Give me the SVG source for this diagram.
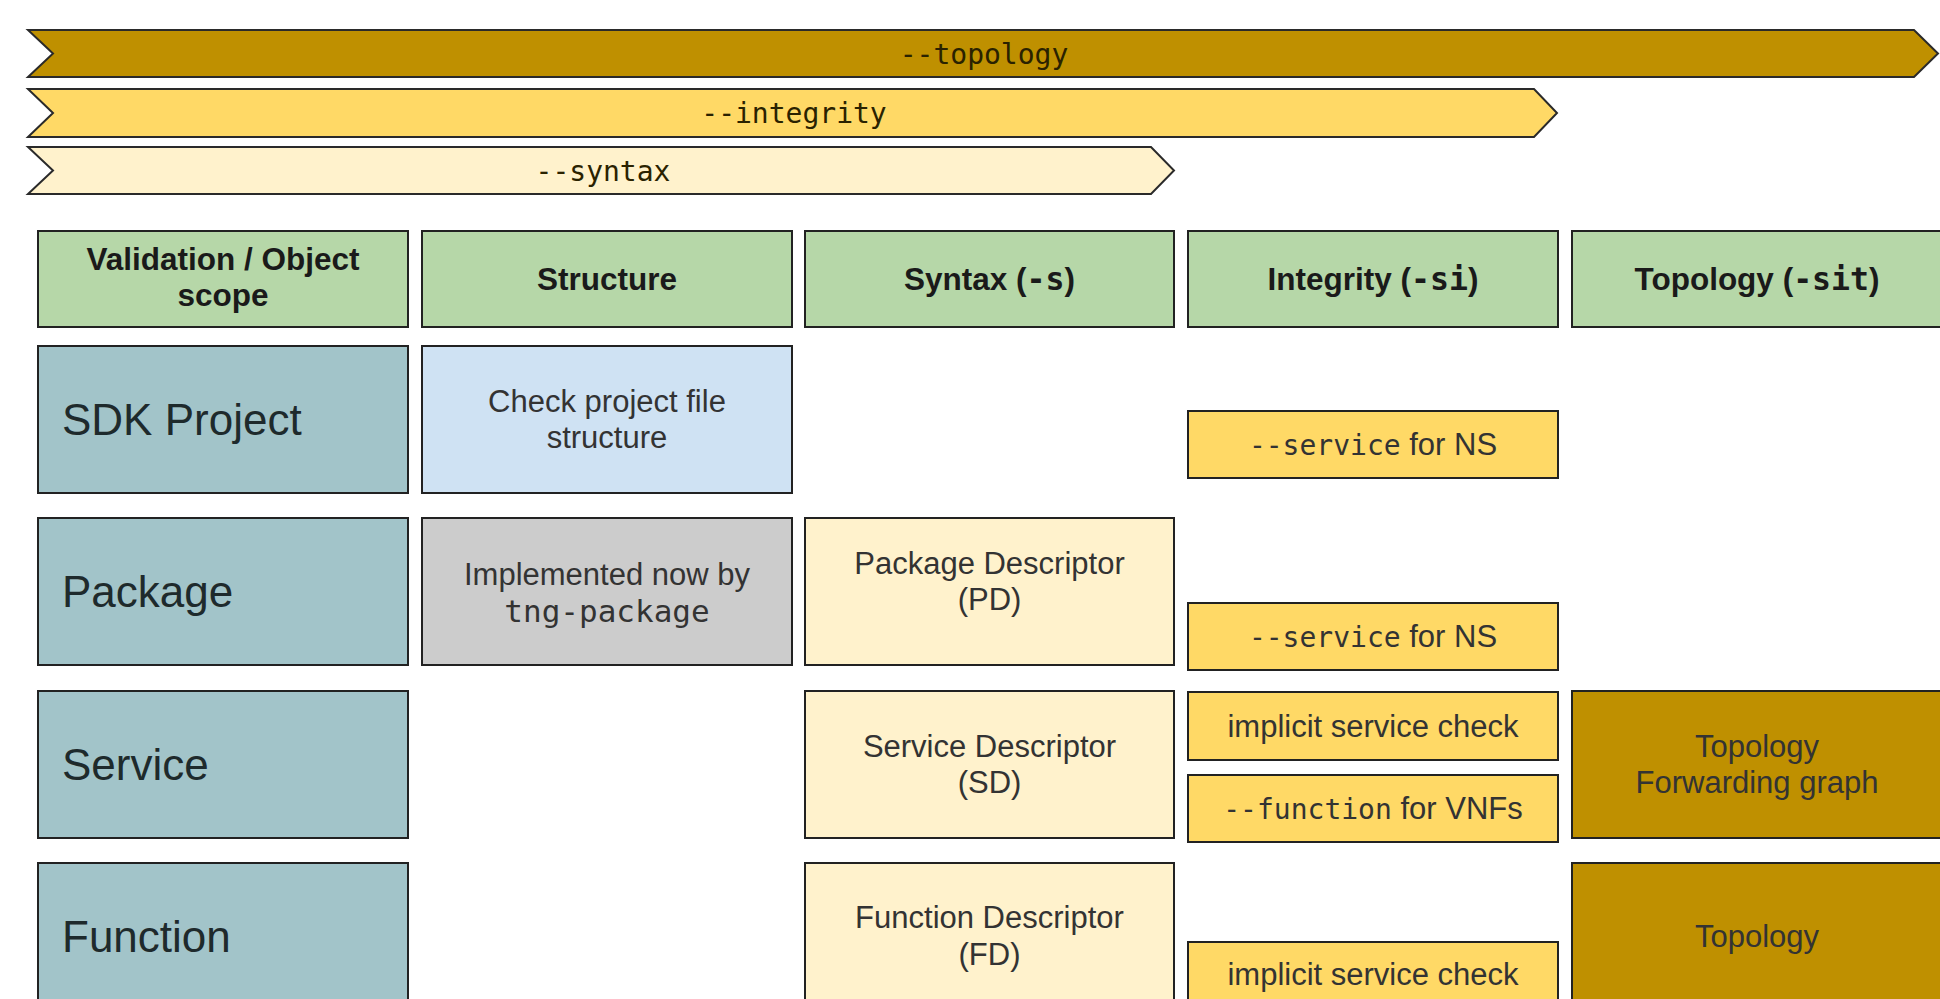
<svg xmlns="http://www.w3.org/2000/svg" width="1940" height="999" viewBox="0 0 1940 999">
<style>
.box{stroke:#222;stroke-width:2}
.ban{stroke:#2a2a2a;stroke-width:2;stroke-linejoin:miter}
.hdr{fill:#b6d7a8}
.obj{fill:#a2c4c9}
.blue{fill:#cfe2f3}
.gray{fill:#cccccc}
.lt{fill:#fff2cc}
.mid{fill:#ffd966}
.dk{fill:#bf9000}
text{font-family:"Liberation Sans",Arial,sans-serif;fill:#333}
.h{font-weight:bold;font-size:31.5px;fill:#1a1a1a;text-anchor:middle}
.b{font-size:31px;text-anchor:middle}
.big{font-size:44px;fill:#1e2a2c}
.m{font-family:"DejaVu Sans Mono","Liberation Mono",monospace}
.bt{font-family:"DejaVu Sans Mono","Liberation Mono",monospace;font-size:28px;fill:#2a2200;text-anchor:middle}
</style>
<rect width="1940" height="999" fill="#ffffff"/>

<g id="banners">
  <g id="banner-topology">
    <polygon class="ban dk" points="28,30 1914,30 1938,53.5 1914,77 28,77 53,53.5"/>
    <text class="bt" x="984" y="64">--topology</text>
  </g>
  <g id="banner-integrity">
    <polygon class="ban mid" points="28,89 1534,89 1557,113 1534,137 28,137 53,113"/>
    <text class="bt" x="794" y="123">--integrity</text>
  </g>
  <g id="banner-syntax">
    <polygon class="ban lt" points="28,147 1151,147 1174,170.5 1151,194 28,194 53,170.5"/>
    <text class="bt" x="603" y="181">--syntax</text>
  </g>
</g>

<g id="header">
  <g id="h-scope">
    <rect class="box hdr" x="38" y="231" width="370" height="96"/>
    <text class="h" x="223" y="270">Validation / Object</text>
    <text class="h" x="223" y="306">scope</text>
  </g>
  <g id="h-structure">
    <rect class="box hdr" x="422" y="231" width="370" height="96"/>
    <text class="h" x="607" y="290">Structure</text>
  </g>
  <g id="h-syntax">
    <rect class="box hdr" x="805" y="231" width="369" height="96"/>
    <text class="h" x="989.5" y="290">Syntax (<tspan class="m">-s</tspan>)</text>
  </g>
  <g id="h-integrity">
    <rect class="box hdr" x="1188" y="231" width="370" height="96"/>
    <text class="h" x="1373" y="290">Integrity (<tspan class="m">-si</tspan>)</text>
  </g>
  <g id="h-topology">
    <rect class="box hdr" x="1572" y="231" width="372" height="96"/>
    <text class="h" x="1757" y="290">Topology (<tspan class="m">-sit</tspan>)</text>
  </g>
</g>

<g id="row-sdk">
  <g id="sdk-project">
    <rect class="box obj" x="38" y="346" width="370" height="147"/>
    <text class="big" x="62" y="435">SDK Project</text>
  </g>
  <g id="sdk-structure">
    <rect class="box blue" x="422" y="346" width="370" height="147"/>
    <text class="b" x="607" y="412">Check project file</text>
    <text class="b" x="607" y="448">structure</text>
  </g>
  <g id="sdk-integrity">
    <rect class="box mid" x="1188" y="411" width="370" height="67"/>
    <text class="b" x="1373" y="455"><tspan class="m" font-size="28">--service</tspan> for NS</text>
  </g>
</g>

<g id="row-package">
  <g id="package">
    <rect class="box obj" x="38" y="518" width="370" height="147"/>
    <text class="big" x="62" y="607">Package</text>
  </g>
  <g id="package-structure">
    <rect class="box gray" x="422" y="518" width="370" height="147"/>
    <text class="b" x="607" y="585">Implemented now by</text>
    <text class="b m" x="607" y="622" font-size="29">tng-package</text>
  </g>
  <g id="package-syntax">
    <rect class="box lt" x="805" y="518" width="369" height="147"/>
    <text class="b" x="989.5" y="574">Package Descriptor</text>
    <text class="b" x="989.5" y="610">(PD)</text>
  </g>
  <g id="package-integrity">
    <rect class="box mid" x="1188" y="603" width="370" height="67"/>
    <text class="b" x="1373" y="647"><tspan class="m" font-size="28">--service</tspan> for NS</text>
  </g>
</g>

<g id="row-service">
  <g id="service">
    <rect class="box obj" x="38" y="691" width="370" height="147"/>
    <text class="big" x="62" y="780">Service</text>
  </g>
  <g id="service-syntax">
    <rect class="box lt" x="805" y="691" width="369" height="147"/>
    <text class="b" x="989.5" y="757">Service Descriptor</text>
    <text class="b" x="989.5" y="793">(SD)</text>
  </g>
  <g id="service-integrity-implicit">
    <rect class="box mid" x="1188" y="692" width="370" height="68"/>
    <text class="b" x="1373" y="737">implicit service check</text>
  </g>
  <g id="service-integrity-function">
    <rect class="box mid" x="1188" y="775" width="370" height="67"/>
    <text class="b" x="1373" y="819"><tspan class="m" font-size="28">--function</tspan> for VNFs</text>
  </g>
  <g id="service-topology">
    <rect class="box dk" x="1572" y="691" width="372" height="147"/>
    <text class="b" x="1757" y="757">Topology</text>
    <text class="b" x="1757" y="793">Forwarding graph</text>
  </g>
</g>

<g id="row-function">
  <g id="function">
    <rect class="box obj" x="38" y="863" width="370" height="150"/>
    <text class="big" x="62" y="952">Function</text>
  </g>
  <g id="function-syntax">
    <rect class="box lt" x="805" y="863" width="369" height="150"/>
    <text class="b" x="989.5" y="928">Function Descriptor</text>
    <text class="b" x="989.5" y="965">(FD)</text>
  </g>
  <g id="function-integrity">
    <rect class="box mid" x="1188" y="942" width="370" height="70"/>
    <text class="b" x="1373" y="985">implicit service check</text>
  </g>
  <g id="function-topology">
    <rect class="box dk" x="1572" y="863" width="372" height="150"/>
    <text class="b" x="1757" y="947">Topology</text>
  </g>
</g>

<g id="connectors"></g>
</svg>
